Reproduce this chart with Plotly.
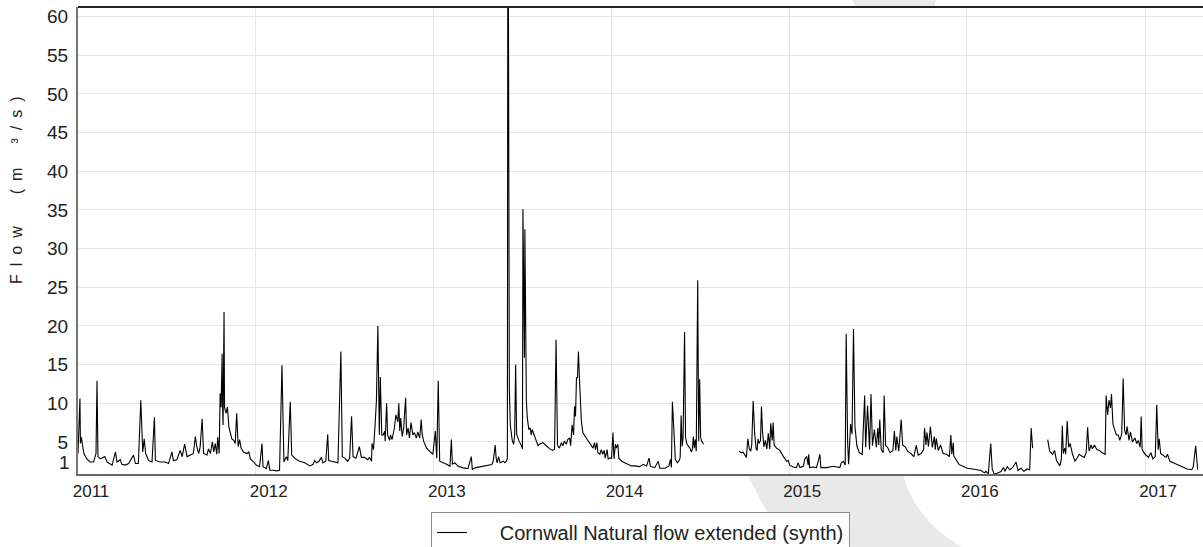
import plotly.graph_objects as go

# ---------------- data ----------------
dates_2011 = ["2011-01-01","2011-01-05","2011-01-06","2011-01-08","2011-01-13","2011-01-19","2011-01-26","2011-02-02","2011-02-07","2011-02-09",
              "2011-02-11","2011-02-16","2011-02-25","2011-03-02","2011-03-12","2011-03-19","2011-03-22","2011-03-29","2011-04-01","2011-04-08",
              "2011-04-15","2011-04-25","2011-04-29","2011-05-05","2011-05-10","2011-05-14","2011-05-17","2011-05-20","2011-05-26","2011-06-02",
              "2011-06-07","2011-06-09","2011-06-19","2011-06-29","2011-07-06","2011-07-13","2011-07-16","2011-07-23","2011-07-30","2011-08-03",
              "2011-08-08","2011-08-13","2011-08-20","2011-08-26","2011-08-30","2011-09-02","2011-09-06","2011-09-09","2011-09-13","2011-09-16",
              "2011-09-23","2011-09-26","2011-09-30","2011-10-04","2011-10-07","2011-10-10","2011-10-13","2011-10-15","2011-10-18","2011-10-20",
              "2011-10-22","2011-10-24","2011-10-25","2011-10-26","2011-10-28","2011-10-29","2011-11-01","2011-11-04","2011-11-07","2011-11-10",
              "2011-11-13","2011-11-17","2011-11-20","2011-11-23","2011-11-26","2011-11-29","2011-12-02","2011-12-07","2011-12-14","2011-12-18",
              "2011-12-21","2011-12-28"]
flow_2011 = [3.5,10.6,4.8,5.6,3.5,2.8,2.4,2.4,3.5,12.9,
             3.1,2.8,3.1,2.4,2.0,3.7,2.4,2.7,2.1,2.0,
             2.2,3.3,2.2,2.2,10.4,3.7,5.4,3.5,2.6,2.4,
             8.2,2.6,2.4,2.4,2.2,3.7,2.6,2.7,3.9,3.1,
             4.7,3.1,3.3,3.5,5.7,4.4,3.5,4.4,8.0,3.5,
             3.3,4.1,3.5,5.0,3.7,4.8,3.4,5.6,3.5,11.3,
             9.5,16.4,9.5,7.2,21.8,9.5,8.7,9.5,6.9,6.0,
             5.4,5.2,4.8,8.7,4.4,5.3,4.2,3.7,3.5,3.7,
             2.8,2.4]

dates_2012 = ["2012-01-02","2012-01-09","2012-01-14","2012-01-16","2012-01-23","2012-01-27","2012-01-30","2012-02-06","2012-02-13","2012-02-19",
              "2012-02-24","2012-02-28","2012-03-04","2012-03-07","2012-03-12","2012-03-15","2012-03-21","2012-03-28","2012-03-31","2012-04-11",
              "2012-04-21","2012-04-28","2012-05-01","2012-05-05","2012-05-10","2012-05-15","2012-05-18","2012-05-24","2012-05-28","2012-05-30",
              "2012-06-11","2012-06-18","2012-06-24","2012-06-27","2012-07-02","2012-07-08","2012-07-12","2012-07-16","2012-07-19","2012-07-25",
              "2012-08-01","2012-08-05","2012-08-12","2012-08-18","2012-08-22","2012-08-26","2012-08-27","2012-08-30","2012-09-02","2012-09-05",
              "2012-09-08","2012-09-11","2012-09-13","2012-09-16","2012-09-19","2012-09-22","2012-09-23","2012-09-26","2012-09-28","2012-10-02",
              "2012-10-04","2012-10-07","2012-10-12","2012-10-15","2012-10-19","2012-10-21","2012-10-23","2012-10-25","2012-10-28","2012-10-31",
              "2012-11-04","2012-11-06","2012-11-09","2012-11-12","2012-11-15","2012-11-19","2012-11-22","2012-11-26","2012-11-29","2012-12-03",
              "2012-12-06","2012-12-08","2012-12-11","2012-12-17","2012-12-20","2012-12-25","2012-12-30"]
flow_2012 = [2.0,1.8,4.8,1.8,1.55,2.6,1.33,1.33,1.25,1.33,
             14.9,2.4,3.1,2.6,10.2,3.3,2.9,2.6,2.5,2.3,
             1.9,2.1,2.6,2.3,2.5,3.0,2.3,2.5,6.0,2.6,
             2.4,2.3,16.7,3.1,2.9,2.5,2.9,8.3,3.1,2.9,
             4.4,3.0,3.0,2.7,3.0,2.5,4.8,4.0,6.9,10.3,
             20.0,5.9,13.4,5.9,5.9,6.4,5.1,10.0,5.9,5.2,
             5.9,5.3,6.8,8.5,7.6,10.0,6.4,8.1,5.7,6.8,
             10.7,5.9,6.8,5.5,7.5,5.9,6.2,5.5,6.3,5.5,
             7.9,6.0,5.1,4.2,4.0,3.7,3.4]

dates_2013 = ["2013-01-04","2013-01-07","2013-01-10","2013-01-13","2013-01-27","2013-02-03","2013-02-06","2013-02-08","2013-02-13","2013-02-20",
              "2013-03-02","2013-03-12","2013-03-19","2013-03-21","2013-03-26","2013-04-12","2013-04-30","2013-05-03","2013-05-07","2013-05-09",
              "2013-05-11","2013-05-14","2013-05-17","2013-05-24","2013-05-27","2013-05-30","2013-06-01","2013-06-02","2013-06-03","2013-06-05",
              "2013-06-07","2013-06-11","2013-06-14","2013-06-16","2013-06-18","2013-06-20","2013-06-25","2013-06-30","2013-07-02","2013-07-03",
              "2013-07-06","2013-07-07","2013-07-09","2013-07-10","2013-07-12","2013-07-15","2013-07-18","2013-07-20","2013-07-22","2013-07-28",
              "2013-08-03","2013-08-06","2013-08-13","2013-08-20","2013-08-27","2013-09-02","2013-09-06","2013-09-09","2013-09-12","2013-09-16",
              "2013-09-20","2013-09-23","2013-09-26","2013-09-30","2013-10-03","2013-10-07","2013-10-09","2013-10-12","2013-10-15","2013-10-17",
              "2013-10-19","2013-10-21","2013-10-23","2013-10-25","2013-10-26","2013-10-27","2013-10-31","2013-11-03","2013-11-10","2013-11-17",
              "2013-11-24","2013-11-27","2013-11-29","2013-12-02","2013-12-04","2013-12-08","2013-12-11","2013-12-14","2013-12-17","2013-12-19",
              "2013-12-23","2013-12-25","2013-12-28"]
flow_2013 = [6.4,2.9,12.9,2.5,2.1,1.85,5.3,2.1,2.3,1.85,
             1.64,1.55,3.1,1.42,1.64,1.85,2.07,2.5,4.6,2.93,
             2.3,3.1,2.3,2.5,2.3,2.5,2.9,72.0,68.0,12.0,
             7.2,5.2,4.7,6.0,15.0,6.0,5.1,4.5,4.1,35.1,
             15.9,32.5,16.4,10.3,8.1,6.6,6.8,5.9,6.6,5.5,
             4.5,4.7,4.9,4.5,4.1,3.9,4.1,18.2,4.6,4.2,
             4.9,4.5,5.1,4.7,5.3,5.5,4.5,7.2,5.9,9.6,
             8.3,13.3,13.3,16.7,14.6,13.3,7.7,6.2,5.5,4.9,
             4.2,4.9,4.0,4.9,3.6,3.4,4.0,3.4,3.9,2.9,
             4.0,2.8,2.9]

dates_2014 = ["2014-01-01","2014-01-04","2014-01-06","2014-01-09","2014-01-11","2014-01-14","2014-01-16","2014-01-22","2014-01-28","2014-02-04",
              "2014-02-11","2014-02-18","2014-02-28","2014-03-07","2014-03-14","2014-03-19","2014-03-22","2014-03-31","2014-04-07","2014-04-10",
              "2014-04-21","2014-04-29","2014-05-02","2014-05-04","2014-05-06","2014-05-09","2014-05-12","2014-05-16","2014-05-20","2014-05-22",
              "2014-05-24","2014-05-26","2014-05-28","2014-05-31","2014-06-02","2014-06-05","2014-06-11","2014-06-14","2014-06-16","2014-06-18",
              "2014-06-20","2014-06-22","2014-06-24","2014-06-27","2014-06-29","2014-07-01","2014-07-03","2014-07-05","2014-07-09","2014-08-15",
              "2014-09-20","2014-09-25","2014-09-28","2014-10-02","2014-10-05","2014-10-08","2014-10-11","2014-10-14","2014-10-16","2014-10-19",
              "2014-10-22","2014-10-25","2014-10-27","2014-10-29","2014-10-31","2014-11-03","2014-11-05","2014-11-07","2014-11-10","2014-11-13",
              "2014-11-16","2014-11-19","2014-11-22","2014-11-24","2014-11-27","2014-11-29","2014-12-01","2014-12-06","2014-12-13","2014-12-20",
              "2014-12-27","2014-12-30"]
flow_2014 = [2.9,6.2,2.8,4.7,4.2,4.7,2.9,2.5,2.3,2.1,
             1.9,1.9,1.8,2.1,1.9,2.9,1.8,1.7,2.5,1.6,
             1.6,1.9,2.75,1.7,10.2,6.6,2.75,2.3,2.6,3.0,
             8.4,4.4,5.6,19.2,5.6,4.7,4.2,3.7,4.0,5.7,
             4.2,5.3,3.8,25.9,5.1,13.1,5.6,5.1,4.7,None,
             3.8,3.6,3.7,3.3,3.0,5.4,4.1,3.8,4.6,10.3,
             6.1,4.1,3.9,5.4,4.8,5.2,9.6,6.5,4.35,5.2,
             4.1,6.1,4.1,7.4,5.2,7.5,4.6,4.2,3.9,3.1,
             2.5,2.6]

dates_2015 = ["2015-01-02","2015-01-09","2015-01-16","2015-01-19","2015-01-23","2015-01-30","2015-02-02","2015-02-06","2015-02-09","2015-02-10",
              "2015-02-12","2015-02-19","2015-02-26","2015-03-02","2015-03-05","2015-03-07","2015-03-19","2015-04-01","2015-04-15","2015-04-18",
              "2015-04-22","2015-04-26","2015-04-28","2015-05-01","2015-05-03","2015-05-07","2015-05-10","2015-05-13","2015-05-16","2015-05-20",
              "2015-05-25","2015-05-31","2015-06-05","2015-06-07","2015-06-11","2015-06-15","2015-06-18","2015-06-21","2015-06-25","2015-06-29",
              "2015-07-02","2015-07-04","2015-07-06","2015-07-09","2015-07-13","2015-07-15","2015-07-18","2015-07-22","2015-07-27","2015-08-02",
              "2015-08-05","2015-08-08","2015-08-10","2015-08-14","2015-08-19","2015-08-22","2015-08-28","2015-09-01","2015-09-08","2015-09-14",
              "2015-09-19","2015-09-23","2015-09-29","2015-10-04","2015-10-06","2015-10-09","2015-10-11","2015-10-14","2015-10-18","2015-10-22",
              "2015-10-26","2015-10-28","2015-10-30","2015-11-03","2015-11-08","2015-11-13","2015-11-20","2015-11-26","2015-11-29","2015-12-01",
              "2015-12-04","2015-12-05","2015-12-10","2015-12-16","2015-12-24"]
flow_2015 = [2.0,1.76,1.68,2.3,1.68,1.85,2.8,3.1,2.0,3.4,
             1.68,1.76,1.68,2.6,3.4,1.68,1.68,1.85,1.68,2.3,
             2.5,2.0,19.0,5.0,2.1,7.3,6.0,19.6,7.0,4.5,
             3.6,3.4,11.0,4.3,9.7,4.0,11.2,4.5,6.6,4.3,
             6.8,4.6,7.9,4.0,3.6,11.0,4.5,4.3,3.6,3.9,
             6.4,3.9,5.7,3.8,7.9,4.6,4.3,3.8,3.5,3.1,
             4.55,3.3,3.5,4.0,6.8,4.6,6.2,4.4,7.0,4.3,
             5.7,4.0,5.45,3.9,4.6,3.5,3.4,3.1,5.9,3.4,
             4.9,3.2,2.6,2.06,1.84]

dates_2016 = ["2016-01-02","2016-01-13","2016-01-19","2016-01-30","2016-02-06","2016-02-09","2016-02-14","2016-02-19","2016-02-22","2016-02-26",
              "2016-03-03","2016-03-11","2016-03-16","2016-03-19","2016-03-24","2016-03-29","2016-04-04","2016-04-11","2016-04-15","2016-04-21",
              "2016-04-27","2016-05-04","2016-05-09","2016-05-12","2016-05-15","2016-05-30","2016-06-15","2016-06-19","2016-06-25","2016-06-29",
              "2016-07-03","2016-07-10","2016-07-13","2016-07-15","2016-07-17","2016-07-20","2016-07-22","2016-07-25","2016-07-28","2016-07-31",
              "2016-08-05","2016-08-10","2016-08-13","2016-08-19","2016-08-23","2016-08-29","2016-09-02","2016-09-05","2016-09-08","2016-09-12",
              "2016-09-15","2016-09-19","2016-09-24","2016-09-29","2016-10-05","2016-10-11","2016-10-13","2016-10-16","2016-10-19","2016-10-22",
              "2016-10-24","2016-10-27","2016-10-31","2016-11-03","2016-11-07","2016-11-10","2016-11-14","2016-11-17","2016-11-20","2016-11-23",
              "2016-11-25","2016-11-29","2016-12-02","2016-12-06","2016-12-11","2016-12-15","2016-12-18","2016-12-22","2016-12-24","2016-12-26"]
flow_2016 = [1.6,1.5,1.4,1.3,1.0,1.2,0.9,4.8,1.5,0.85,
             0.95,1.16,1.7,1.2,1.8,1.4,1.7,2.4,1.3,1.6,
             1.2,1.5,1.4,6.8,4.2,None,5.3,3.8,3.4,3.9,
             2.6,1.9,2.8,7.1,3.5,4.2,3.4,7.7,4.3,4.8,
             3.4,2.5,2.8,3.4,3.2,3.0,3.6,6.9,3.8,4.6,
             4.1,4.6,4.0,3.9,3.6,3.4,11.0,8.5,10.4,9.4,
             11.2,7.3,6.5,5.9,5.9,5.2,6.0,13.2,6.5,5.9,
             7.0,5.2,6.3,5.0,5.5,4.8,5.2,4.3,8.3,4.0]

dates_2017 = ["2017-01-01","2017-01-08","2017-01-13","2017-01-17","2017-01-22","2017-01-25","2017-01-28","2017-01-30","2017-02-02","2017-02-08",
              "2017-02-13","2017-02-16","2017-02-21","2017-02-28","2017-03-07","2017-03-14","2017-03-21","2017-03-28","2017-04-07","2017-04-10",
              "2017-04-15","2017-04-19"]
flow_2017 = [3.4,3.0,3.6,2.8,3.1,9.8,4.0,5.4,3.5,3.2,
             3.0,3.4,2.5,2.3,2.1,1.84,1.6,1.5,1.4,1.8,
             4.5,1.4]

year_ticks = ["2011-01-01","2012-01-01","2013-01-01","2014-01-01","2015-01-01","2016-01-01","2017-01-01"]
year_labels = ["2011","2012","2013","2014","2015","2016","2017"]
y_ticks = [5,10,15,20,25,30,35,40,45,50,55,60]
series_name = "Cornwall Natural flow extended (synth)"

dates = dates_2011 + dates_2012 + dates_2013 + dates_2014 + dates_2015 + dates_2016 + dates_2017
flow = flow_2011 + flow_2012 + flow_2013 + flow_2014 + flow_2015 + flow_2016 + flow_2017

# ---------------- figure ----------------
FONT = "Liberation Sans, Arial, sans-serif"
W, H = 1203, 547
L, R, T, B = 78, 0, 7, 73
pw, ph = W - L - R, H - T - B

def px(x):  # pixel -> paper x
    return (x - L) / pw

def py(y):  # pixel -> paper y
    return (H - B - y) / ph

fig = go.Figure()
fig.add_trace(go.Scatter(
    x=dates, y=flow, mode="lines", name="\u00a0" * 5 + series_name,
    line=dict(color="#000000", width=1.1), connectgaps=False, showlegend=True,
))

# light grey background swoosh: only the parts outside the white plot area show
wm_top = (f"M {px(852)},{py(0)} L {px(936)},{py(0)} L {px(934)},{py(7)} "
          f"L {px(856)},{py(7)} Z")
wm_bottom = (f"M {px(747)},{py(474)} L {px(903)},{py(474)} "
             f"Q {px(915)},{py(520)} {px(962)},{py(547)} L {px(785)},{py(547)} Z")
for p in (wm_top, wm_bottom):
    fig.add_shape(type="path", path=p, xref="paper", yref="paper", layer="below",
                  fillcolor="#e9e9e9", line=dict(width=0))
# dark frame line on top
fig.add_shape(type="line", xref="paper", yref="paper", x0=0, x1=1, y0=1, y1=1,
              line=dict(color="#222222", width=2), layer="above")

fig.update_layout(
    width=W, height=H,
    margin=dict(l=L, r=R, t=T, b=B, autoexpand=False),
    paper_bgcolor="white", plot_bgcolor="white",
    font=dict(family=FONT, color="#222222"),
    showlegend=True,
    legend=dict(orientation="h", x=0.5, xanchor="center", y=py(512), yanchor="top",
                bgcolor="white", bordercolor="#8a8a8a", borderwidth=1,
                font=dict(size=20, family=FONT, color="#222222")),
    xaxis=dict(type="date", range=["2011-01-01", "2017-04-30"],
               tickvals=year_ticks, ticktext=year_labels,
               showgrid=True, gridcolor="#e6e6e6", gridwidth=1,
               showline=True, linecolor="#666666", linewidth=2,
               ticks="", tickfont=dict(size=17, family=FONT, color="#222222"),
               ticklabelshift=13, ticklabelstandoff=1, zeroline=False),
    yaxis=dict(range=[0.85, 61.25], tickvals=y_ticks,
               showgrid=True, gridcolor="#e6e6e6", gridwidth=1,
               showline=True, linecolor="#777777", linewidth=2,
               ticks="", tickfont=dict(size=19, family=FONT, color="#222222"),
               ticklabelstandoff=4, zeroline=False),
)

# bottom tick label "1" (drawn slightly above the axis line as in the reference)
fig.add_annotation(text="1", xref="paper", x=0, xanchor="right", xshift=-6,
                   yref="paper", y=py(462), yanchor="middle", showarrow=False,
                   font=dict(size=19, family=FONT, color="#222222"))

# spaced-out rotated axis title
title_txt = "F\u2002l\u2002o\u2002w\u2003\u2003(\u2002m\u2003\u2002\u00b3\u2002/\u2002s\u2002)"
fig.add_annotation(text=title_txt, xref="paper", x=px(17), xanchor="center",
                   yref="paper", y=py(190), yanchor="middle", textangle=-90,
                   showarrow=False, font=dict(size=16, family=FONT, color="#222222"))

fig.write_html("out.html")
